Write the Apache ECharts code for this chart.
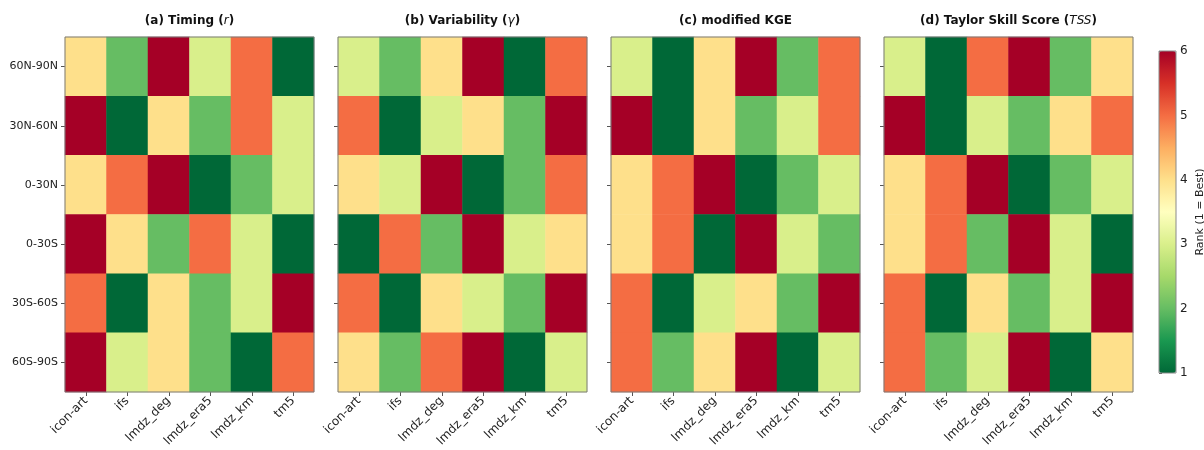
<!DOCTYPE html>
<html>
<head>
<meta charset="utf-8">
<script src="https://cdn.jsdelivr.net/npm/echarts@6/dist/echarts.min.js"></script>
<style>
  html, body { margin: 0; padding: 0; background: #fff; }
  #chart { width: 1204px; height: 450px; }
</style>
</head>
<body>
<div id="chart"></div>
<script>
// Regions (rows, top to bottom) and models (columns)
const regions = ['60N-90N', '30N-60N', '0-30N', '0-30S', '30S-60S', '60S-90S'];
const models = ['icon-art', 'ifs', 'lmdz_deg', 'lmdz_era5', 'lmdz_km', 'tm5'];

// Rank of each model per region (1 = best), one row per region
const timingRank = [
  [4, 2, 6, 3, 5, 1],
  [6, 1, 4, 2, 5, 3],
  [4, 5, 6, 1, 2, 3],
  [6, 4, 2, 5, 3, 1],
  [5, 1, 4, 2, 3, 6],
  [6, 3, 4, 2, 1, 5]
];
const variabilityRank = [
  [3, 2, 4, 6, 1, 5],
  [5, 1, 3, 4, 2, 6],
  [4, 3, 6, 1, 2, 5],
  [1, 5, 2, 6, 3, 4],
  [5, 1, 4, 3, 2, 6],
  [4, 2, 5, 6, 1, 3]
];
const kgeRank = [
  [3, 1, 4, 6, 2, 5],
  [6, 1, 4, 2, 3, 5],
  [4, 5, 6, 1, 2, 3],
  [4, 5, 1, 6, 3, 2],
  [5, 1, 3, 4, 2, 6],
  [5, 2, 4, 6, 1, 3]
];
const tssRank = [
  [3, 1, 5, 6, 2, 4],
  [6, 1, 3, 2, 4, 5],
  [4, 5, 6, 1, 2, 3],
  [4, 5, 2, 6, 3, 1],
  [5, 1, 4, 2, 3, 6],
  [5, 2, 3, 6, 1, 4]
];
const colorbarTicks = [1, 2, 3, 4, 5, 6];

// RdYlGn reversed: green = best rank, red = worst
const rdYlGnR = ['#006837', '#1a9850', '#66bd63', '#a6d96a', '#d9ef8b', '#ffffbf',
                 '#fee08b', '#fdae61', '#f46d43', '#d73027', '#a50026'];

const panels = [
  { title: '{b|(a) Timing (}{i|r}{b|)}', ranks: timingRank },
  { title: '{b|(b) Variability (}{i|γ}{b|)}', ranks: variabilityRank },
  { title: '{b|(c) modified KGE}', ranks: kgeRank },
  { title: '{b|(d) Taylor Skill Score (}{i|TSS}{b|)}', ranks: tssRank }
];

const FONT = 'DejaVu Sans';
const panelLeft = [65, 338, 611, 884];
const panelTop = 37, panelW = 249, panelH = 355;
const cb = { left: 1159, top: 51, width: 17, height: 322 };

function toCells(ranks) {
  const out = [];
  ranks.forEach((row, i) => row.forEach((v, j) => out.push([j, i, v])));
  return out;
}

const grids = [], xAxes = [], yAxes = [], series = [], graphics = [];
panels.forEach((p, k) => {
  grids.push({
    left: panelLeft[k], top: panelTop, width: panelW, height: panelH,
    show: true, borderColor: '#7a7a7a', borderWidth: 1, backgroundColor: 'transparent',
    z: 10, outerBoundsMode: 'none'
  });
  xAxes.push({
    type: 'category', gridIndex: k, data: models, position: 'bottom',
    axisLine: { show: false },
    axisTick: { show: true, alignWithLabel: true, length: 4, lineStyle: { color: '#555' } },
    axisLabel: { rotate: 45, margin: 7, color: '#222', fontFamily: FONT, fontSize: 12, interval: 0 },
    splitLine: { show: false }
  });
  yAxes.push({
    type: 'category', gridIndex: k, data: regions, inverse: true,
    axisLine: { show: false },
    axisTick: { show: true, alignWithLabel: true, length: 4, lineStyle: { color: '#555' } },
    axisLabel: { show: k === 0, margin: 7, color: '#222', fontFamily: FONT, fontSize: 11, interval: 0 },
    splitLine: { show: false }
  });
  series.push({
    type: 'heatmap', xAxisIndex: k, yAxisIndex: k, data: toCells(p.ranks),
    itemStyle: { borderWidth: 0 }, emphasis: { disabled: true }
  });
  graphics.push({
    type: 'text',
    x: panelLeft[k] + panelW / 2, y: 21,
    style: {
      text: p.title,
      textAlign: 'center', textVerticalAlign: 'middle', align: 'center', verticalAlign: 'middle',
      fill: '#111',
      rich: {
        b: { fontFamily: FONT, fontWeight: 'bold', fontSize: 12, fill: '#111', color: '#111' },
        i: { fontFamily: FONT, fontStyle: 'italic', fontSize: 12, fill: '#111', color: '#111' }
      }
    }
  });
});

// Colorbar axis (ticks + label) sitting on the visualMap bar
grids.push({
  left: cb.left, top: cb.top, width: cb.width, height: cb.height,
  show: true, borderColor: '#8a8a8a', borderWidth: 1, backgroundColor: 'transparent',
  z: 10, outerBoundsMode: 'none'
});
xAxes.push({ type: 'value', gridIndex: 4, show: false, min: 0, max: 1 });
yAxes.push({
  type: 'value', gridIndex: 4, position: 'right', min: colorbarTicks[0],
  max: colorbarTicks[colorbarTicks.length - 1], interval: 1,
  axisLine: { show: false },
  axisTick: { show: true, length: 3, lineStyle: { color: '#555' } },
  axisLabel: { margin: 4, color: '#222', fontFamily: FONT, fontSize: 12 },
  splitLine: { show: false },
  name: 'Rank (1 = Best)', nameLocation: 'middle', nameRotate: 90, nameGap: 19,
  nameTextStyle: { fontFamily: FONT, fontSize: 11, color: '#222' }
});

const chart = echarts.init(document.getElementById('chart'), null, { renderer: 'canvas' });
chart.setOption({
  backgroundColor: '#fff',
  animation: false,
  grid: grids,
  xAxis: xAxes,
  yAxis: yAxes,
  visualMap: {
    type: 'continuous', min: 1, max: 6, seriesIndex: [0, 1, 2, 3],
    inRange: { color: rdYlGnR },
    calculable: false, show: true, orient: 'vertical',
    left: cb.left, top: cb.top, itemWidth: cb.width, itemHeight: cb.height,
    padding: 0, text: null, hoverLink: false
  },
  series: series,
  graphic: graphics
});
</script>
</body>
</html>
